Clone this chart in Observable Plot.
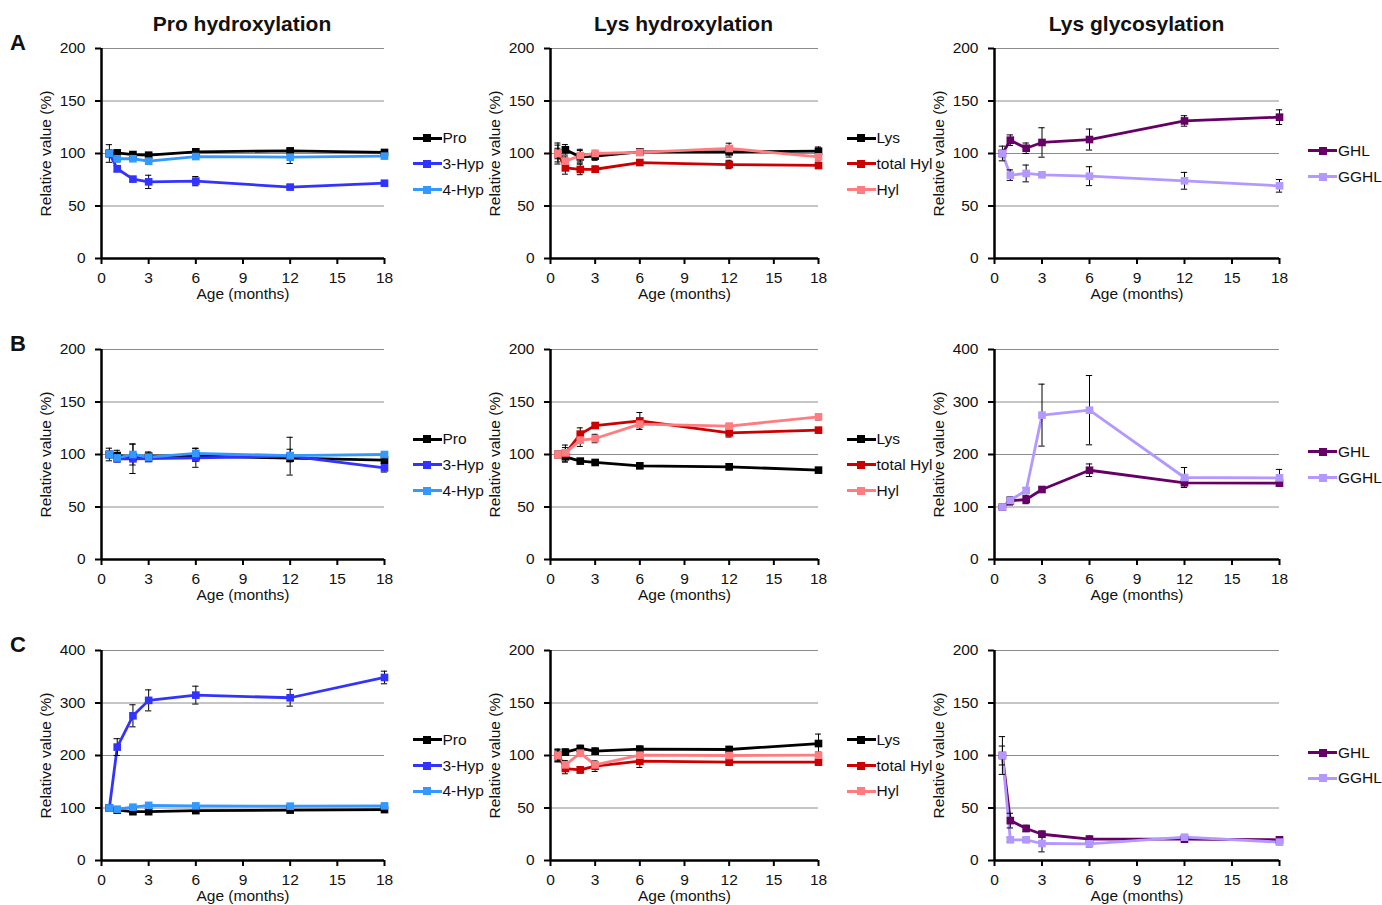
<!DOCTYPE html>
<html>
<head>
<meta charset="utf-8">
<script src="https://cdn.jsdelivr.net/npm/d3@7"></script>
<script src="https://cdn.jsdelivr.net/npm/@observablehq/plot@0.6"></script>
<style>
  html, body { margin: 0; padding: 0; background: #fff; }
  #root { position: relative; width: 1382px; height: 905px; overflow: hidden; background: #fff;
          font-family: "Liberation Sans", Arial, sans-serif; color: #111; }
  .panel { position: absolute; }
  .title { position: absolute; font-weight: bold; font-size: 21px; text-align: center; width: 300px; line-height: 1; }
  .letter { position: absolute; font-weight: bold; font-size: 22px; line-height: 1; }
  .legend { position: absolute; font-size: 15.5px; }
  .item { position: absolute; height: 20px; display: flex; align-items: center; white-space: nowrap; }
  .sw { position: relative; width: 29px; height: 20px; margin-right: 1px; }
  .sw .ln { position: absolute; left: 0; right: 0; top: 8.5px; height: 3px; }
  .sw .sq { position: absolute; left: 10.5px; top: 6px; width: 8px; height: 8px; }
</style>
</head>
<body>
<div id="root"></div>
<script>
// ---------------- DATA ----------------
const months = [0.5, 1, 2, 3, 6, 12, 18];
const xTicks = [0, 3, 6, 9, 12, 15, 18];
const rowLetters = ["A", "B", "C"];
const colTitles = ["Pro hydroxylation", "Lys hydroxylation", "Lys glycosylation"];
const yLabel = "Relative value (%)";
const xLabel = "Age (months)";

// Row A — Pro hydroxylation
const A_Pro      = [100, 100.6, 99, 98.4, 101.6, 102.5, 101];
const A_Pro_sd   = [3, 2, 2, 2, 2, 2, 2];
const A_3Hyp     = [100, 85.5, 75.6, 73, 73.7, 68, 71.7];
const A_3Hyp_sd  = [3, 3, 2, 6.3, 4.4, 2, 2];
const A_4Hyp     = [100, 95, 95, 92.7, 97.1, 96.5, 97.5];
const A_4Hyp_sd  = [8.4, 3, 2, 2, 2, 6, 2];
// Row A — Lys hydroxylation
const A_Lys      = [100, 103.5, 96.8, 97.5, 101.6, 101.6, 102.2];
const A_Lys_sd   = [10, 5, 6, 4, 2, 5, 4];
const A_tHyl     = [100, 86.3, 84.8, 85, 91.4, 89.5, 88.6];
const A_tHyl_sd  = [5, 6, 5, 3, 2, 4, 3];
const A_Hyl      = [100, 92.7, 98, 100, 101, 104.8, 96.8];
const A_Hyl_sd   = [8, 4, 6, 3, 3, 5, 3];
// Row A — Lys glycosylation
const A_GHL      = [100, 112.7, 105, 110.5, 113.3, 131, 134.6];
const A_GHL_sd   = [7, 5, 5, 14, 10, 5, 7];
const A_GGHL     = [100, 79.4, 81, 79.7, 78.4, 74, 69.2];
const A_GGHL_sd  = [3, 5, 8, 1, 9, 8, 6];

// Row B — Pro hydroxylation
const B_Pro      = [100, 99, 97.8, 98.4, 98.4, 96.5, 94.6];
const B_Pro_sd   = [6, 5, 3, 4, 5, 3, 3];
const B_3Hyp     = [100, 95.9, 95.9, 96.2, 96.8, 98.4, 87.3];
const B_3Hyp_sd  = [3, 3, 14, 3, 9, 18, 4];
const B_4Hyp     = [100, 96.8, 100, 97.5, 101, 99, 100];
const B_4Hyp_sd  = [2, 2, 10, 2, 5, 6, 2];
// Row B — Lys hydroxylation
const B_Lys      = [100, 97.8, 93.7, 92.4, 89.2, 88.3, 85.1];
const B_Lys_sd   = [2, 5, 2, 2, 2, 3, 2];
const B_tHyl     = [100, 101, 119.4, 127.6, 132, 120.6, 123.2];
const B_tHyl_sd  = [2, 8, 6, 2, 8, 4, 2];
const B_Hyl      = [100, 101.6, 113.7, 115.2, 128.9, 127, 135.9];
const B_Hyl_sd   = [2, 5, 6, 4, 5, 2, 3];
// Row B — Lys glycosylation
const B_GHL      = [100, 111.7, 114.3, 133.3, 170, 146, 145.4];
const B_GHL_sd   = [3, 8, 8, 5, 12, 3, 3];
const B_GGHL     = [100, 113, 131.4, 275, 284.4, 156.2, 155.6];
const B_GGHL_sd  = [3, 5, 5, 59, 66, 19, 16];

// Row C — Pro hydroxylation
const C_Pro      = [100, 96, 93, 93, 95, 96, 97];
const C_Pro_sd   = [3, 3, 3, 3, 3, 3, 3];
const C_3Hyp     = [100, 216, 275.6, 305, 315, 310, 348.6];
const C_3Hyp_sd  = [6, 16, 21, 20, 17, 16, 12];
const C_4Hyp     = [100, 97.8, 101.6, 105, 104, 103.5, 104];
const C_4Hyp_sd  = [3, 3, 3, 3, 3, 3, 3];
// Row C — Lys hydroxylation
const C_Lys      = [100, 103.2, 106.7, 104.1, 106, 105.7, 111.4];
const C_Lys_sd   = [6, 3, 3, 3, 3, 3, 9];
const C_tHyl     = [100, 87.6, 86.3, 89.8, 94.6, 93.7, 93.7];
const C_tHyl_sd  = [5, 5, 3, 5, 6, 3, 3];
const C_Hyl      = [100, 91.1, 102.2, 91.1, 100.3, 100, 100.3];
const C_Hyl_sd   = [6, 4, 3, 3, 3, 3, 3];
// Row C — Lys glycosylation
const C_GHL      = [100, 38, 30.5, 25, 20.3, 20.3, 19.7];
const C_GHL_sd   = [18, 7, 3, 3, 3, 2, 3];
const C_GGHL     = [100, 19.7, 19.7, 16.2, 15.9, 22.2, 17.5];
const C_GGHL_sd  = [9, 2, 2, 8, 3, 2, 2];

// Series names and colours
const proNames = ["Pro", "3-Hyp", "4-Hyp"];
const proColors = ["#000000", "#3333ff", "#3399ff"];
const lysNames = ["Lys", "total Hyl", "Hyl"];
const lysColors = ["#000000", "#cc0000", "#ff7c80"];
const glyNames = ["GHL", "GGHL"];
const glyColors = ["#660066", "#b399ff"];

// y-axis maxima per row/col
const yMaxA = [200, 200, 200];
const yMaxB = [200, 200, 400];
const yMaxC = [400, 200, 200];

// ---------------- LAYOUT ----------------
const colX0 = [100.5, 549.5, 994];
const colX1 = [383.5, 817.5, 1279];
const rowYTop = [48.3, 349.3, 650];
const plotH = 210;
const mL = 66, mR = 6, mT = 10, mB = 50;

const panels = [
  { r: 0, c: 0, names: proNames, colors: proColors, vals: [A_Pro, A_3Hyp, A_4Hyp], sds: [A_Pro_sd, A_3Hyp_sd, A_4Hyp_sd], ymax: yMaxA[0] },
  { r: 0, c: 1, names: lysNames, colors: lysColors, vals: [A_Lys, A_tHyl, A_Hyl], sds: [A_Lys_sd, A_tHyl_sd, A_Hyl_sd], ymax: yMaxA[1] },
  { r: 0, c: 2, names: glyNames, colors: glyColors, vals: [A_GHL, A_GGHL], sds: [A_GHL_sd, A_GGHL_sd], ymax: yMaxA[2] },
  { r: 1, c: 0, names: proNames, colors: proColors, vals: [B_Pro, B_3Hyp, B_4Hyp], sds: [B_Pro_sd, B_3Hyp_sd, B_4Hyp_sd], ymax: yMaxB[0] },
  { r: 1, c: 1, names: lysNames, colors: lysColors, vals: [B_Lys, B_tHyl, B_Hyl], sds: [B_Lys_sd, B_tHyl_sd, B_Hyl_sd], ymax: yMaxB[1] },
  { r: 1, c: 2, names: glyNames, colors: glyColors, vals: [B_GHL, B_GGHL], sds: [B_GHL_sd, B_GGHL_sd], ymax: yMaxB[2] },
  { r: 2, c: 0, names: proNames, colors: proColors, vals: [C_Pro, C_3Hyp, C_4Hyp], sds: [C_Pro_sd, C_3Hyp_sd, C_4Hyp_sd], ymax: yMaxC[0] },
  { r: 2, c: 1, names: lysNames, colors: lysColors, vals: [C_Lys, C_tHyl, C_Hyl], sds: [C_Lys_sd, C_tHyl_sd, C_Hyl_sd], ymax: yMaxC[1] },
  { r: 2, c: 2, names: glyNames, colors: glyColors, vals: [C_GHL, C_GGHL], sds: [C_GHL_sd, C_GGHL_sd], ymax: yMaxC[2] },
];

const root = document.getElementById("root");

function el(tag, cls, style, text) {
  const e = document.createElement(tag);
  if (cls) e.className = cls;
  Object.assign(e.style, style || {});
  if (text != null) e.textContent = text;
  return e;
}

// column titles
colTitles.forEach((t, c) => {
  const cx = (colX0[c] + colX1[c]) / 2;
  root.appendChild(el("div", "title", { left: (cx - 150) + "px", top: "13px" }, t));
});
// row letters
rowLetters.forEach((L, r) => {
  root.appendChild(el("div", "letter", { left: "10px", top: (rowYTop[r] - 16) + "px" }, L));
});

for (const p of panels) {
  const rows = [];
  p.names.forEach((name, i) => {
    months.forEach((m, j) => rows.push({ series: name, order: i, x: m, y: p.vals[i][j], sd: p.sds[i][j] }));
  });
  const plotW = colX1[p.c] - colX0[p.c];
  const step = p.ymax / 4;
  const yTicks = d3.range(0, p.ymax + 1, step);
  const fig = Plot.plot({
    width: mL + plotW + mR,
    height: mT + plotH + mB,
    marginLeft: mL, marginRight: mR, marginTop: mT, marginBottom: mB,
    style: { fontFamily: '"Liberation Sans", Arial, sans-serif', fontSize: "15.5px", color: "#111", background: "transparent", overflow: "visible" },
    x: { domain: [0, 18], ticks: xTicks },
    y: { domain: [0, p.ymax], ticks: yTicks },
    color: { domain: p.names, range: p.colors },
    marks: [
      Plot.gridY(yTicks.filter(v => v > 0), { stroke: "#8c8c8c", strokeOpacity: 1, strokeWidth: 1 }),
      Plot.axisY(yTicks, { tickSize: 6, tickPadding: 10, strokeWidth: 2, stroke: "#000", label: yLabel, labelAnchor: "center", labelArrow: "none", labelOffset: 62, fontSize: "15.5px" }),
      Plot.axisX(xTicks, { tickSize: 6, tickPadding: 7, strokeWidth: 2, stroke: "#000", label: xLabel, labelAnchor: "center", labelArrow: "none", labelOffset: 40, fontSize: "15.5px" }),
      Plot.line(rows, { x: "x", y: "y", z: "series", stroke: "series", strokeWidth: 2.8 }),
      Plot.ruleX(rows, { x: "x", y1: d => d.y - d.sd, y2: d => d.y + d.sd, stroke: "#000", strokeWidth: 1 }),
      Plot.ruleY(rows, { y: d => d.y + d.sd, x1: d => d.x - 0.2, x2: d => d.x + 0.2, stroke: "#000", strokeWidth: 1 }),
      Plot.ruleY(rows, { y: d => d.y - d.sd, x1: d => d.x - 0.2, x2: d => d.x + 0.2, stroke: "#000", strokeWidth: 1 }),
      Plot.dot(rows, { x: "x", y: "y", fill: "series", symbol: "square", r: 4.3 }),
      Plot.ruleX([0], { stroke: "#000", strokeWidth: 2.5 }),
      Plot.ruleY([0], { stroke: "#000", strokeWidth: 2.5 }),
    ],
  });
  const wrap = el("div", "panel", { left: (colX0[p.c] - mL) + "px", top: (rowYTop[p.r] - mT) + "px" });
  wrap.appendChild(fig);
  root.appendChild(wrap);

  // legend (HTML, colours from the Plot colour scale)
  const colorScale = fig.scale("color");
  const n = p.names.length;
  const cy = rowYTop[p.r] + 115.5;
  const lx = colX1[p.c] + 29;
  p.names.forEach((name, i) => {
    const yy = cy + (i - (n - 1) / 2) * 25.7;
    const item = el("div", "item legend", { left: lx + "px", top: (yy - 10) + "px" });
    const sw = el("div", "sw");
    const col = colorScale.apply(name);
    sw.appendChild(el("div", "ln", { background: col }));
    sw.appendChild(el("div", "sq", { background: col }));
    item.appendChild(sw);
    item.appendChild(el("span", null, {}, name));
    root.appendChild(item);
  });
}
</script>
</body>
</html>
